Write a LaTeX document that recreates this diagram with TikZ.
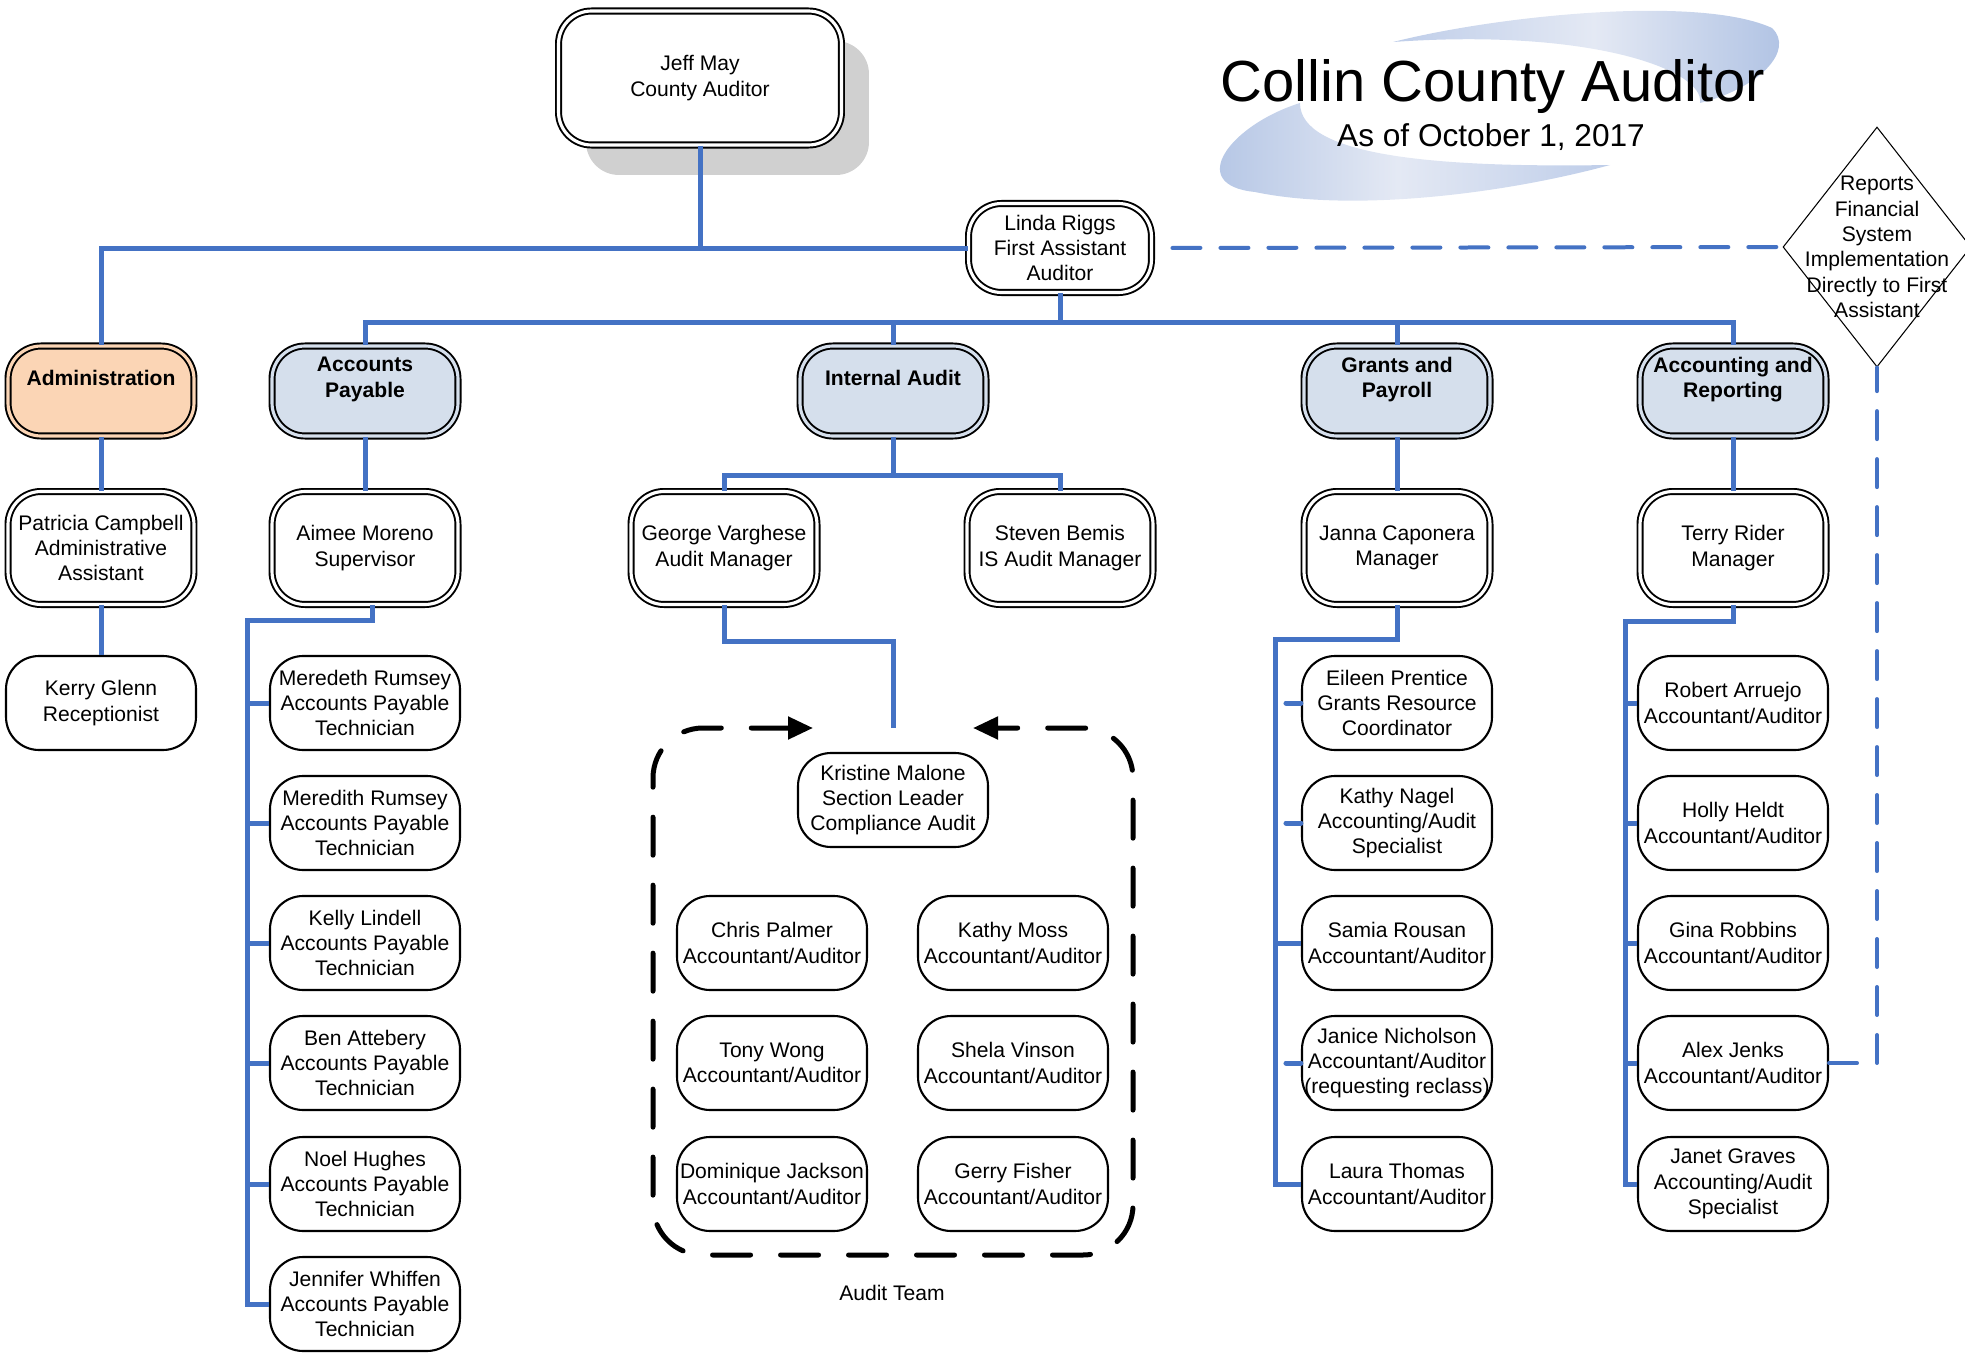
\documentclass[tikz,border=0pt]{standalone}
\usepackage{fontspec}
\setmainfont{Liberation Sans}
\usepackage{xcolor}
\usepackage{tikz}
\usetikzlibrary{shapes.geometric,arrows.meta,shadows}

\definecolor{lineblue}{RGB}{68,114,196}
\definecolor{admfill}{RGB}{251,213,181}
\definecolor{deptfill}{RGB}{213,223,236}
\definecolor{swdark}{RGB}{174,193,227}
\definecolor{swmid}{RGB}{190,205,233}
\definecolor{swlight}{RGB}{228,233,244}
\definecolor{shadowgray}{RGB}{208,208,208}

\begin{document}
\begin{tikzpicture}[x=0.02cm, y=-0.02cm,
    every node/.style={font=\fontsize{12}{14.45}\selectfont, align=center, inner sep=0pt},
    box/.style={rectangle, rounded corners=0.66cm, fill=white, minimum width=3.8cm, minimum height=1.88cm},
    staff/.style={box, draw, line width=1.2pt},
    dbl/.style={box, draw, double=white, line width=1.1pt, double distance=1.8pt, minimum width=3.72cm},
    dept/.style={dbl, minimum height=1.8cm, fill=deptfill, double=deptfill,
        font=\fontsize{12}{14.45}\selectfont\bfseries,
        execute at end node={\rule[-15.5pt]{0pt}{15.5pt}}},
    mgr/.style={dbl, minimum height=2.26cm},
    orgline/.style={draw=lineblue, line width=0.1cm},
    dashlink/.style={draw=lineblue, line width=0.08cm, line cap=round, dash pattern=on 0.56cm off 0.4cm},
    teamloop/.style={draw, line width=0.1cm, line cap=round, dash pattern=on 0.76cm off 0.6cm, rounded corners=1cm}]

    \useasboundingbox (0,0) rectangle (1965,1355);

    % swooshes behind the title
    \shade[left color=swmid, right color=swdark, middle color=swlight]
        (1393,42) .. controls (1500,15) and (1700,-5) .. (1772,28)
        .. controls (1795,50) and (1760,88) .. (1700,103)
        .. controls (1705,70) and (1590,28) .. (1393,42) -- cycle;
    \shade[left color=swdark, right color=swmid, middle color=swlight]
        (1300,103) .. controls (1230,125) and (1185,185) .. (1255,192)
        .. controls (1350,212) and (1500,195) .. (1610,165)
        .. controls (1430,168) and (1300,155) .. (1300,103) -- cycle;
    \node[font=\fontsize{33}{40}\selectfont, anchor=base] (title) at (1493,102) {Collin County Auditor};
    \node[font=\fontsize{18}{22}\selectfont, anchor=base] (date) at (1491,147) {As of October 1, 2017};

    % top of the chart
    \node[dbl, minimum width=5.66cm, minimum height=2.68cm,
        execute at begin node={\rule{0pt}{12.2pt}},
        drop shadow={shadow xshift=0.55cm, shadow yshift=-0.6cm, fill=shadowgray, opacity=1}]
        (jm) at (700,78) {Jeff May\\County Auditor};
    \node[dbl, minimum width=3.66cm, minimum height=1.78cm] (lr) at (1060,248) {Linda Riggs\\First Assistant\\Auditor};
    \node[draw, diamond, line width=0.6pt, minimum width=3.76cm, minimum height=4.8cm] (rep) at (1877,247) {};
    \node (reptxt) at (rep.center) {Reports\\Financial\\System\\Implementation\\Directly to First\\Assistant};

    % departments
    \node[dept, fill=admfill, double=admfill] (adm) at (101,391) {Administration};
    \node[dept] (ap) at (365,391) {Accounts\\Payable};
    \node[dept] (ia) at (893,391) {Internal Audit};
    \node[dept] (gp) at (1397,391) {Grants and\\Payroll};
    \node[dept] (ar) at (1733,391) {Accounting and\\Reporting};

    % managers
    \node[mgr] (pc) at (101,548) {Patricia Campbell\\Administrative\\Assistant};
    \node[mgr] (amo) at (365,548) {Aimee Moreno\\Supervisor};
    \node[mgr] (gv) at (724,548) {George Varghese\\Audit Manager};
    \node[mgr] (sb) at (1060,548) {Steven Bemis\\IS Audit Manager};
    \node[mgr] (jc) at (1397,548) {Janna Caponera\\Manager};
    \node[mgr] (tr) at (1733,548) {Terry Rider\\Manager};

    % administration
    \node[staff] (kg) at (101,703) {Kerry Glenn\\Receptionist};

    % accounts payable
    \node[staff] (ap1) at (365,703) {Meredeth Rumsey\\Accounts Payable\\Technician};
    \node[staff] (ap2) at (365,823) {Meredith Rumsey\\Accounts Payable\\Technician};
    \node[staff] (ap3) at (365,943) {Kelly Lindell\\Accounts Payable\\Technician};
    \node[staff] (ap4) at (365,1063) {Ben Attebery\\Accounts Payable\\Technician};
    \node[staff] (ap5) at (365,1184) {Noel Hughes\\Accounts Payable\\Technician};
    \node[staff] (ap6) at (365,1304) {Jennifer Whiffen\\Accounts Payable\\Technician};

    % audit team
    \node[staff] (km) at (893,800) {Kristine Malone\\Section Leader\\Compliance Audit};
    \node[staff] (cp) at (772,943) {Chris Palmer\\Accountant/Auditor};
    \node[staff] (kmo) at (1013,943) {Kathy Moss\\Accountant/Auditor};
    \node[staff] (tw) at (772,1063) {Tony Wong\\Accountant/Auditor};
    \node[staff] (sv) at (1013,1063) {Shela Vinson\\Accountant/Auditor};
    \node[staff] (dj) at (772,1184) {Dominique Jackson\\Accountant/Auditor};
    \node[staff] (gf) at (1013,1184) {Gerry Fisher\\Accountant/Auditor};
    \node (teamlbl) at (892,1293) {Audit Team};

    % grants and payroll
    \node[staff] (gp1) at (1397,703) {Eileen Prentice\\Grants Resource\\Coordinator};
    \node[staff] (gp2) at (1397,823) {Kathy Nagel\\Accounting/Audit\\Specialist};
    \node[staff] (gp3) at (1397,943) {Samia Rousan\\Accountant/Auditor};
    \node[staff] (gp4) at (1397,1063) {Janice Nicholson\\Accountant/Auditor\\(requesting reclass)};
    \node[staff] (gp5) at (1397,1184) {Laura Thomas\\Accountant/Auditor};

    % accounting and reporting
    \node[staff] (ar1) at (1733,703) {Robert Arruejo\\Accountant/Auditor};
    \node[staff] (ar2) at (1733,823) {Holly Heldt\\Accountant/Auditor};
    \node[staff] (ar3) at (1733,943) {Gina Robbins\\Accountant/Auditor};
    \node[staff] (ar4) at (1733,1063) {Alex Jenks\\Accountant/Auditor};
    \node[staff] (ar5) at (1733,1184) {Janet Graves\\Accounting/Audit\\Specialist};

    % lines from the top
    \coordinate (deptbus) at (1060,322);
    \draw[orgline] (jm.south) -- (jm.south |- lr.west);
    \draw[orgline] (adm.north) |- (lr.west);
    \draw[orgline] (lr.south) -- (deptbus);
    \draw[orgline] (ap.north) |- (deptbus) -| (ar.north);
    \draw[orgline] (ia.north) -- (ia.north |- deptbus);
    \draw[orgline] (gp.north) -- (gp.north |- deptbus);
    \draw[dashlink, dash phase=0.56cm] (lr.east) -- (rep.west);
    \draw[dashlink] (ar4.east) -| (rep.south);

    % administration
    \draw[orgline] (adm.south) -- (pc.north);
    \draw[orgline] (pc.south) -- (kg.north);

    % accounts payable
    \coordinate (apspine) at (247,620);
    \draw[orgline] (ap.south) -- (amo.north);
    \draw[orgline] ([xshift=0.14cm]amo.south) |- (apspine) -- (apspine |- ap6.west) -- (ap6.west);
    \foreach \n in {1,...,5}
        \draw[orgline] (apspine |- ap\n.west) -- (ap\n.west);

    % internal audit
    \coordinate (iabus) at (893,475);
    \coordinate (teamtop) at (893,728);
    \draw[orgline] (ia.south) -- (iabus);
    \draw[orgline] (gv.north) |- (iabus) -| (sb.north);
    \draw[orgline] (gv.south) -- ++(0,36) -| (teamtop);
    \draw[teamloop, {Triangle[length=0.5cm,width=0.44cm]}-{Triangle[length=0.5cm,width=0.44cm]}]
        (813,728) -- (653,728) -- (653,1255) -- (1133,1255) -- (1133,728) -- (973,728);

    % grants and payroll
    \coordinate (gpspine) at (1275,639);
    \draw[orgline] (gp.south) -- (jc.north);
    \draw[orgline] (jc.south) |- (gpspine) -- (gpspine |- gp5.west) -- (gp5.west);
    \draw[orgline] (gpspine |- gp3.west) -- (gp3.west);
    \foreach \n in {1,2,4}
        \draw[orgline, line cap=round] ([xshift=-0.3cm]gp\n.west) -- (gp\n.west);

    % accounting and reporting
    \coordinate (arspine) at (1625,621);
    \draw[orgline] (ar.south) -- (tr.north);
    \draw[orgline] (tr.south) |- (arspine) -- (arspine |- ar5.west) -- (ar5.west);
    \foreach \n in {1,...,4}
        \draw[orgline] (arspine |- ar\n.west) -- (ar\n.west);
\end{tikzpicture}
\end{document}
